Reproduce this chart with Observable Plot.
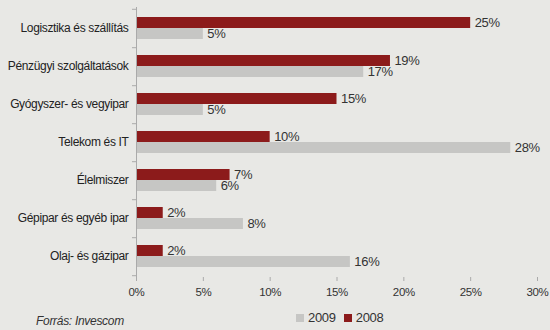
<!DOCTYPE html>
<html>
<head>
<meta charset="utf-8">
<script src="https://cdn.jsdelivr.net/npm/d3@7"></script>
<script src="https://cdn.jsdelivr.net/npm/@observablehq/plot@0.6"></script>
<style>
  html, body { margin: 0; padding: 0; background: #e8e8e5; }
  #wrap { position: relative; width: 550px; height: 330px; background: #e8e8e5;
    font-family: "Liberation Sans Narrow", "Arial Narrow", "Liberation Sans", Arial, sans-serif; color: #333; letter-spacing: -0.3px; }
  #chart { position: absolute; left: 0; top: 0; }
  #legend { position: absolute; left: 296px; top: 310px; font-size: 13px; display: flex; align-items: center; gap: 4px; }
  #legend .sw { display: inline-block; width: 8px; height: 8px; }
  #caption { position: absolute; left: 36px; top: 314px; font-size: 12px; font-style: italic; color: #333; }
</style>
</head>
<body>
<div id="wrap">
  <div id="chart"></div>
  <div id="legend"></div>
  <div id="caption">Forrás: Invescom</div>
</div>
<script>
const categories = [
  "Logisztika és szállítás",
  "Pénzügyi szolgáltatások",
  "Gyógyszer- és vegyipar",
  "Telekom és IT",
  "Élelmiszer",
  "Gépipar és egyéb ipar",
  "Olaj- és gázipar"
];
const series = ["2009", "2008"];
const values2008 = [25, 19, 15, 10, 7, 2, 2];
const values2009 = [5, 17, 5, 28, 6, 8, 16];
const xTicks = [0, 5, 10, 15, 20, 25, 30];
const colors = { "2008": "#8c1b1b", "2009": "#c6c6c4" };

const d2008 = categories.map((c, i) => ({ category: c, year: "2008", value: values2008[i] }));
const d2009 = categories.map((c, i) => ({ category: c, year: "2009", value: values2009[i] }));

const half = 11;
const font = '"Liberation Sans Narrow", "Arial Narrow", "Liberation Sans", Arial, sans-serif';

const chart = Plot.plot({
  width: 550,
  height: 305,
  marginLeft: 136,
  marginRight: 13,
  marginTop: 7,
  marginBottom: 28,
  style: { background: "transparent", fontFamily: font, fontSize: "12px", color: "#333", letterSpacing: "-0.35px" },
  x: { domain: [0, 30], ticks: xTicks, tickFormat: d => d + "%", label: null },
  y: { domain: categories, paddingInner: 0.43, paddingOuter: 0.23, label: null },
  marks: [
    Plot.axisX({ ticks: xTicks, tickFormat: d => d + "%", tickSize: 4, stroke: "#aaa", tickPadding: 6, fontSize: 11.5, fill: "#333" }),
    Plot.axisY({ tickSize: 0, tickPadding: 8, fontSize: 12, fill: "#222" }),
    Plot.barX(d2008, { x: "value", y: "category", fill: colors["2008"], insetBottom: half }),
    Plot.barX(d2009, { x: "value", y: "category", fill: colors["2009"], insetTop: half }),
    Plot.ruleX([0], { stroke: "#aaa" }),
    Plot.ruleY([0], { stroke: "#aaa" }),
    Plot.ruleY(categories, { y: d => d, x1: -0.3, x2: 0, dy: 19.2, stroke: "#aaa" }),
    Plot.ruleY(categories.slice(0, 1), { y: d => d, x1: -0.3, x2: 0, dy: -19.2, stroke: "#aaa" }),
    Plot.text(d2008, { x: "value", y: "category", text: d => d.value + "%", dx: 4, dy: -5.5, textAnchor: "start", fontSize: 13, fill: "#333" }),
    Plot.text(d2009, { x: "value", y: "category", text: d => d.value + "%", dx: 4, dy: 5.5, textAnchor: "start", fontSize: 13, fill: "#333" })
  ]
});
document.getElementById("chart").appendChild(chart);

const legend = document.getElementById("legend");
series.forEach((s, i) => {
  const sw = document.createElement("span");
  sw.className = "sw";
  sw.style.background = colors[s];
  const t = document.createElement("span");
  t.textContent = s;
  t.style.marginRight = i === 0 ? "4px" : "0";
  legend.appendChild(sw);
  legend.appendChild(t);
});
</script>
</body>
</html>
